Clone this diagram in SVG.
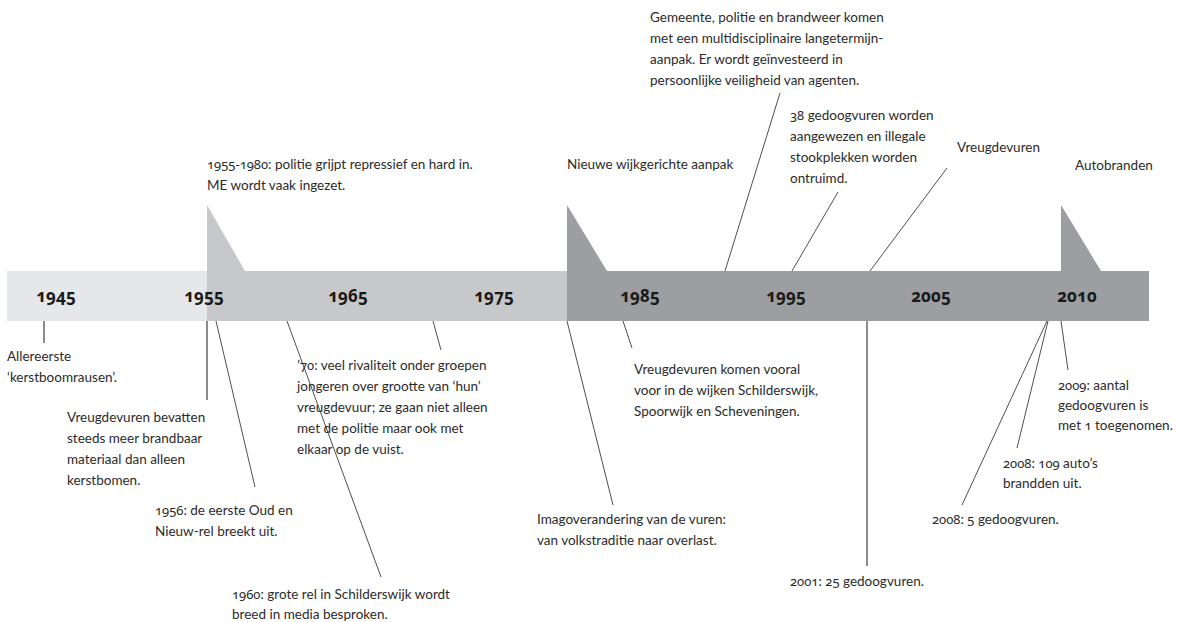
<svg xmlns="http://www.w3.org/2000/svg" width="1177" height="622" viewBox="0 0 1177 622">
<style>
.t{font-family:Lato,"Liberation Sans",sans-serif;font-size:13.5px;fill:#2b2b2b}
.n{font-family:"Noto Sans","Liberation Sans",sans-serif;font-size:13px;font-feature-settings:"onum" 1;font-variant-numeric:oldstyle-nums}
.y{font-family:"Noto Sans","Liberation Sans",sans-serif;font-size:17px;font-weight:bold;fill:#1a1a1a;text-anchor:middle;font-variant-numeric:oldstyle-nums;font-feature-settings:"onum" 1}
.c{stroke:#222;stroke-width:0.8;fill:none}
.v{stroke:#666;stroke-width:1.5;fill:none}
</style>
<rect width="1177" height="622" fill="#fff"/>
<g id="timeline">
<rect x="7" y="271" width="200" height="50" fill="#e6e7e8"/>
<path d="M207 205 L245 271 L567 271 L567 321 L207 321 Z" fill="#c7c8ca"/>
<path d="M567 205 L607 271 L1061 271 L1061 205 L1101 271 L1149 271 L1149 321 L567 321 Z" fill="#9d9ea1"/>
<text class="y" x="56" y="302">1945</text>
<text class="y" x="204" y="302">1955</text>
<text class="y" x="348" y="302">1965</text>
<text class="y" x="494" y="302">1975</text>
<text class="y" x="640" y="302">1985</text>
<text class="y" x="786" y="302">1995</text>
<text class="y" x="931" y="302">2005</text>
<text class="y" x="1077" y="302">2010</text>
</g>
<g id="connectors">
<line class="v" x1="44" y1="321" x2="44" y2="343"/>
<line class="v" x1="207" y1="321" x2="207" y2="400"/>
<line class="c" x1="216" y1="321" x2="255" y2="487"/>
<line class="c" x1="287" y1="321" x2="381" y2="577"/>
<line class="c" x1="433" y1="321" x2="441" y2="350"/>
<line class="c" x1="567" y1="321" x2="613" y2="505"/>
<line class="c" x1="623" y1="321" x2="632" y2="348"/>
<line class="v" x1="867" y1="321" x2="867" y2="566"/>
<line class="c" x1="1047" y1="321" x2="962" y2="505"/>
<line class="c" x1="1048" y1="321" x2="1017" y2="448"/>
<line class="c" x1="1061" y1="321" x2="1068" y2="370"/>
<line class="c" x1="725" y1="271" x2="780" y2="93"/>
<line class="c" x1="792" y1="271" x2="838" y2="192"/>
<line class="c" x1="870" y1="271" x2="947" y2="168"/>
</g>
<g id="n-1955-1980"><text class="t" x="207" y="169"><tspan class="n">1955-1980</tspan>: politie grijpt repressief en hard in.</text><text class="t" x="207" y="190">ME wordt vaak ingezet.</text></g>
<g id="n-wijk"><text class="t" x="567" y="169">Nieuwe wijkgerichte aanpak</text></g>
<g id="n-gemeente"><text class="t" x="650" y="22">Gemeente, politie en brandweer komen</text><text class="t" x="650" y="43">met een multidisciplinaire langetermijn-</text><text class="t" x="650" y="64">aanpak. Er wordt geïnvesteerd in</text><text class="t" x="650" y="85">persoonlijke veiligheid van agenten.</text></g>
<g id="n-38"><text class="t" x="790" y="120"><tspan class="n">38</tspan> gedoogvuren worden</text><text class="t" x="790" y="141">aangewezen en illegale</text><text class="t" x="790" y="162">stookplekken worden</text><text class="t" x="790" y="183">ontruimd.</text></g>
<g id="n-vreugdevuren"><text class="t" x="957" y="152">Vreugdevuren</text></g>
<g id="n-autobranden"><text class="t" x="1075" y="170">Autobranden</text></g>
<g id="n-allereerste"><text class="t" x="7" y="361">Allereerste</text><text class="t" x="7" y="382">‘kerstboomrausen’.</text></g>
<g id="n-bevatten"><text class="t" x="67" y="422">Vreugdevuren bevatten</text><text class="t" x="67" y="443">steeds meer brandbaar</text><text class="t" x="67" y="464">materiaal dan alleen</text><text class="t" x="67" y="485">kerstbomen.</text></g>
<g id="n-1956"><text class="t" x="155" y="515"><tspan class="n">1956</tspan>: de eerste Oud en</text><text class="t" x="155" y="536">Nieuw-rel breekt uit.</text></g>
<g id="n-1960"><text class="t" x="232" y="599"><tspan class="n">1960</tspan>: grote rel in Schilderswijk wordt</text><text class="t" x="232" y="619">breed in media besproken.</text></g>
<g id="n-70"><text class="t" x="297" y="370">’<tspan class="n">70</tspan>: veel rivaliteit onder groepen</text><text class="t" x="297" y="391">jongeren over grootte van ‘hun’</text><text class="t" x="297" y="412">vreugdevuur; ze gaan niet alleen</text><text class="t" x="297" y="433">met de politie maar ook met</text><text class="t" x="297" y="454">elkaar op de vuist.</text></g>
<g id="n-imago"><text class="t" x="537" y="524">Imagoverandering van de vuren:</text><text class="t" x="537" y="545">van volkstraditie naar overlast.</text></g>
<g id="n-wijken"><text class="t" x="634" y="374">Vreugdevuren komen vooral</text><text class="t" x="634" y="395">voor in de wijken Schilderswijk,</text><text class="t" x="634" y="416">Spoorwijk en Scheveningen.</text></g>
<g id="n-2009"><text class="t" x="1058" y="390"><tspan class="n">2009</tspan>: aantal</text><text class="t" x="1058" y="410">gedoogvuren is</text><text class="t" x="1058" y="430">met <tspan class="n">1</tspan> toegenomen.</text></g>
<g id="n-2008a"><text class="t" x="1003" y="468"><tspan class="n">2008</tspan>: <tspan class="n">109</tspan> auto’s</text><text class="t" x="1003" y="488">brandden uit.</text></g>
<g id="n-2008b"><text class="t" x="932" y="524"><tspan class="n">2008</tspan>: <tspan class="n">5</tspan> gedoogvuren.</text></g>
<g id="n-2001"><text class="t" x="790" y="586"><tspan class="n">2001</tspan>: <tspan class="n">25</tspan> gedoogvuren.</text></g>
</svg>
